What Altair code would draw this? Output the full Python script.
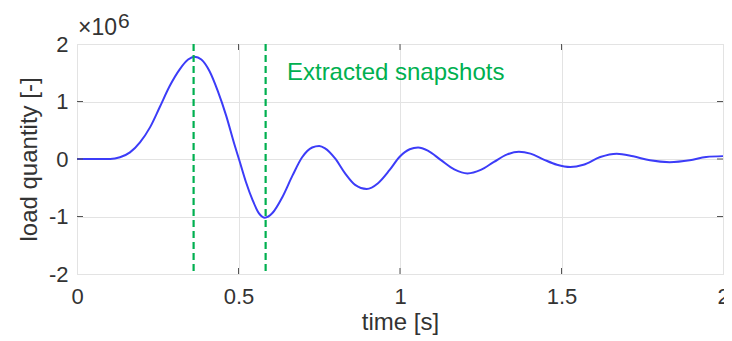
import altair as alt
import pandas as pd

# curve (time in s, load in 1e6)
t_vals = [0.0, 0.05, 0.103, 0.133, 0.164, 0.195, 0.226, 0.256, 0.287, 0.318, 0.344, 0.364,
          0.385, 0.41, 0.436, 0.462, 0.487, 0.503, 0.523, 0.544, 0.564, 0.582, 0.605, 0.636,
          0.667, 0.697, 0.728, 0.750, 0.768, 0.799, 0.830, 0.861, 0.897, 0.932, 0.968, 0.999,
          1.030, 1.056, 1.086, 1.127, 1.168, 1.209, 1.250, 1.291, 1.332, 1.368, 1.404, 1.445,
          1.486, 1.527, 1.568, 1.620, 1.671, 1.722, 1.774, 1.835, 1.897, 1.948, 2.0]
v_vals = [0.0, 0.0, 0.0, 0.03, 0.115, 0.29, 0.55, 0.90, 1.27, 1.56, 1.73, 1.78,
          1.73, 1.53, 1.18, 0.75, 0.26, -0.03, -0.40, -0.72, -0.95, -1.02, -0.94, -0.66,
          -0.29, 0.03, 0.20, 0.226, 0.185, 0.01, -0.25, -0.45, -0.52, -0.42, -0.19, 0.04,
          0.17, 0.20, 0.145, -0.02, -0.18, -0.25, -0.19, -0.05, 0.08, 0.127, 0.093, -0.01,
          -0.10, -0.14, -0.10, 0.035, 0.093, 0.046, -0.023, -0.055, -0.023, 0.035, 0.05]

snapshot_times = [0.361, 0.584]
annotation_text = ["Extracted snapshots"]
annotation_t = [0.650]
annotation_v = [1.50]
x_ticks = [0, 0.5, 1, 1.5, 2]
y_ticks = [-2, -1, 0, 1, 2]

FONT = "Liberation Sans"
W, H = 646, 230

curve = pd.DataFrame({"t": t_vals, "v": v_vals})
snaps = pd.DataFrame({"t": snapshot_times})
ann = pd.DataFrame({"t": annotation_t, "v": annotation_v, "label": annotation_text})
xt = pd.DataFrame({"t": x_ticks[1:-1]})
yt = pd.DataFrame({"v": y_ticks[1:-1]})

xscale = alt.Scale(domain=[0, 2], nice=False, zero=False)
yscale = alt.Scale(domain=[-2, 2], nice=False, zero=False)

line = alt.Chart(curve).mark_line(color="#3c3cf8", strokeWidth=2, interpolate="monotone").encode(
    x=alt.X("t:Q", scale=xscale,
            axis=alt.Axis(title="time [s]", values=x_ticks, grid=True, ticks=False, domain=False,
                          labelExpr="'' + datum.value",
                          labelFontSize=22, titleFontSize=24, labelFont=FONT, titleFont=FONT,
                          labelColor="#333333", titleColor="#333333", titleFontWeight="normal",
                          labelPadding=12, titlePadding=3, gridColor="#e3e3e3", labelFlush=False)),
    y=alt.Y("v:Q", scale=yscale,
            axis=alt.Axis(title="load quantity [-]", values=y_ticks, grid=True, ticks=False,
                          domain=False, labelExpr="'' + datum.value",
                          labelFontSize=22, titleFontSize=24, labelFont=FONT, titleFont=FONT,
                          labelColor="#333333", titleColor="#333333", titleFontWeight="normal",
                          labelPadding=9, titlePadding=7, gridColor="#e3e3e3", labelFlush=False)),
)

snap_rules = alt.Chart(snaps).mark_rule(color="#00b050", strokeWidth=2.2, strokeDash=[7, 4]).encode(
    x=alt.X("t:Q", scale=xscale)
)

ann_text = alt.Chart(ann).mark_text(color="#00b050", font=FONT, fontSize=24, align="left",
                                    baseline="middle").encode(
    x=alt.X("t:Q", scale=xscale), y=alt.Y("v:Q", scale=yscale), text="label:N"
)

tick_style = dict(color="#555555", strokeWidth=1)
xt_bottom = alt.Chart(xt).mark_rule(**tick_style).encode(
    x=alt.X("t:Q", scale=xscale), y=alt.value(H), y2=alt.value(H - 6))
xt_top = alt.Chart(xt).mark_rule(**tick_style).encode(
    x=alt.X("t:Q", scale=xscale), y=alt.value(0), y2=alt.value(6))
yt_left = alt.Chart(yt).mark_rule(**tick_style).encode(
    y=alt.Y("v:Q", scale=yscale), x=alt.value(0), x2=alt.value(6))
yt_right = alt.Chart(yt).mark_rule(**tick_style).encode(
    y=alt.Y("v:Q", scale=yscale), x=alt.value(W), x2=alt.value(W - 6))

exp_base = alt.Chart(pd.DataFrame({"s": ["×10"]})).mark_text(
    font=FONT, fontSize=23, color="#333333", align="left", baseline="alphabetic").encode(
    x=alt.value(1), y=alt.value(-9), text="s:N")
exp_pow = alt.Chart(pd.DataFrame({"s": ["6"]})).mark_text(
    font=FONT, fontSize=21, color="#333333", align="left", baseline="alphabetic").encode(
    x=alt.value(41), y=alt.value(-16), text="s:N")

chart = alt.layer(line, snap_rules, ann_text, xt_bottom, xt_top, yt_left, yt_right,
                  exp_base, exp_pow).properties(
    width=W, height=H,
    autosize=alt.AutoSizeParams(type="none"),
    padding={"left": 69, "top": 36, "right": 1, "bottom": 62},
).configure_view(stroke="#555555", strokeWidth=1.2).configure(background="white")

chart.save("out.html", embed_options={"renderer": "svg", "actions": False})
